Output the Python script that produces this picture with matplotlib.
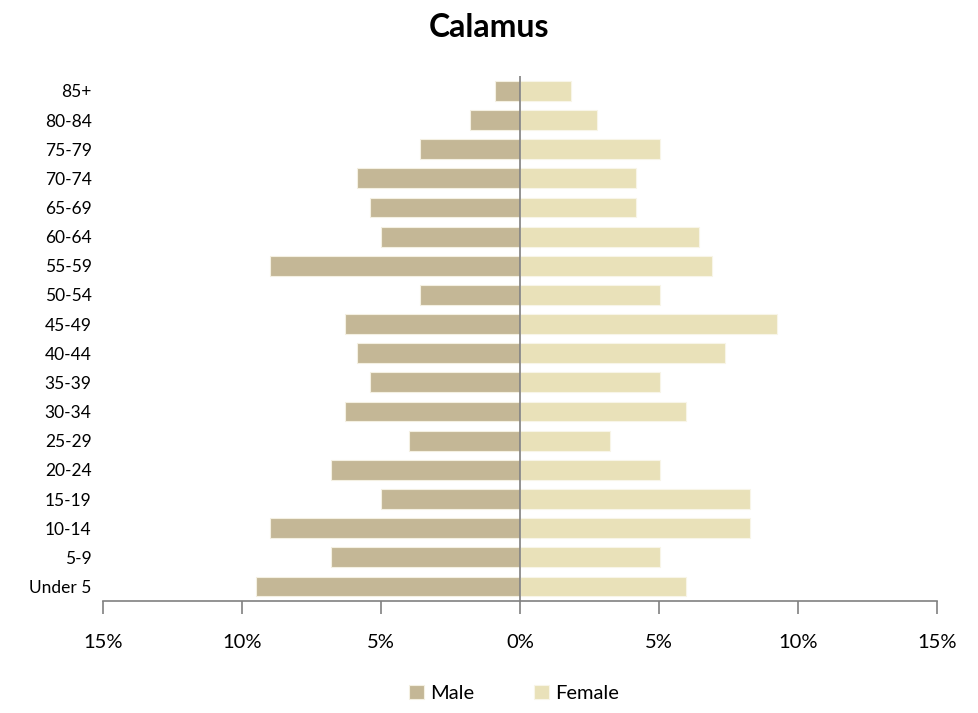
import matplotlib.pyplot as plt
import numpy as np

plt.rcParams['font.family'] = ['Lato', 'DejaVu Sans']

ages = ['Under 5', '5-9', '10-14', '15-19', '20-24', '25-29', '30-34', '35-39',
        '40-44', '45-49', '50-54', '55-59', '60-64', '65-69', '70-74', '75-79',
        '80-84', '85+']
male = [9.5, 6.8, 9.0, 5.0, 6.8, 4.0, 6.3, 5.4, 5.85, 6.3, 3.6, 9.0, 5.0,
        5.4, 5.85, 3.6, 1.8, 0.9]
female = [5.97, 5.04, 8.27, 8.27, 5.04, 3.24, 5.97, 5.04, 7.37, 9.24, 5.04,
          6.9, 6.44, 4.17, 4.17, 5.04, 2.77, 1.83]

male_col = '#C4B796'
female_col = '#E9E1B9'

fig = plt.figure(figsize=(9.79, 7.13), dpi=100)
ax = fig.add_axes([0.105, 0.157, 0.852, 0.736])

y = np.arange(len(ages))
ax.barh(y, -np.array(male), height=0.68, color=male_col, edgecolor='#F4F0E2',
        linewidth=0.8, label='Male')
ax.barh(y, female, height=0.68, color=female_col, edgecolor='#F8F5E8',
        linewidth=0.8, label='Female')

ax.set_xlim(-15, 15)
ax.set_ylim(-0.5, len(ages) - 0.5)
ax.axvline(0, color='#808080', lw=1.2)

ax.set_xticks([-15, -10, -5, 0, 5, 10, 15])
ax.set_xticklabels(['15%', '10%', '5%', '0%', '5%', '10%', '15%'], fontsize=14.5)
ax.set_yticks(y)
ax.set_yticklabels(ages, fontsize=12.5)

for s in ['top', 'right', 'left']:
    ax.spines[s].set_visible(False)
ax.spines['bottom'].set_color('#808080')
ax.spines['bottom'].set_linewidth(1.2)
ax.tick_params(axis='x', direction='out', length=9, width=1.2, color='#808080', pad=15)
ax.tick_params(axis='y', length=0, pad=8)

fig.suptitle('Calamus', fontsize=23, fontweight='bold', y=0.982)

fig.legend(loc='lower center', bbox_to_anchor=(0.525, -0.01), ncol=2, frameon=False,
           fontsize=14.5, handlelength=0.75, handleheight=0.75, columnspacing=3.0,
           handletextpad=0.3)

fig.savefig('out.png')
